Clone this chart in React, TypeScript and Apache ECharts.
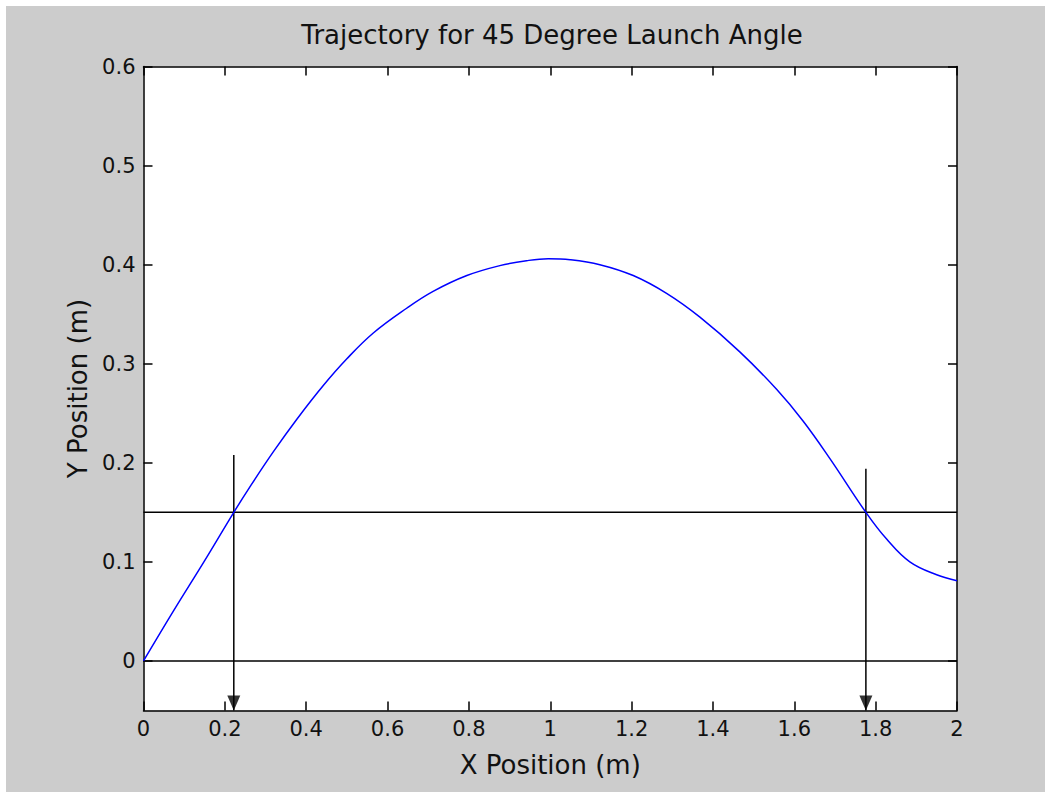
import React, { useEffect, useRef } from "react";
import * as echarts from "echarts";

// Trajectory samples
const trajX = [0, 0.073, 0.15, 0.222, 0.262, 0.319, 0.377, 0.442, 0.5, 0.565, 0.647, 0.712, 0.795, 0.876, 0.942, 0.995, 1.049, 1.122, 1.204, 1.286, 1.368, 1.466, 1.557, 1.622, 1.688, 1.776, 1.827, 1.884, 1.95, 2.0];
const trajY = [0, 0.05, 0.101, 0.15, 0.176, 0.211, 0.244, 0.278, 0.305, 0.331, 0.356, 0.373, 0.389, 0.399, 0.404, 0.406, 0.405, 0.4, 0.389, 0.371, 0.347, 0.312, 0.274, 0.242, 0.204, 0.15, 0.123, 0.1, 0.087, 0.081];

// Horizontal reference lines
const refLevels = [0, 0.15];
// Vertical arrows marking the crossings
const crossX = [0.222, 1.776];
const arrowTopY = [0.208, 0.194];
const arrowBottomY = -0.05;

const xTicks = [0, 0.2, 0.4, 0.6, 0.8, 1, 1.2, 1.4, 1.6, 1.8, 2];
const yTicks = [0, 0.1, 0.2, 0.3, 0.4, 0.5, 0.6];
const xRange = [0, 2];
const yRange = [-0.05, 0.6];

const FONT = "DejaVu Sans";

export default function App() {
  const ref = useRef<HTMLDivElement>(null);

  useEffect(() => {
    if (!ref.current) return;
    const chart = echarts.init(ref.current, null, { renderer: "svg" });

    const tickStyle = { show: true, inside: true, length: 9, lineStyle: { color: "#000", width: 1.5 } };
    const lineStyleAxis = { show: true, onZero: false, lineStyle: { color: "#000", width: 1.5 } };

    const series: any[] = [];
    series.push({
      type: "line",
      data: trajX.map((x, i) => [x, trajY[i]]),
      showSymbol: false,
      smooth: 0.4,
      lineStyle: { color: "#0000ff", width: 1.5 },
      z: 5,
    });
    refLevels.forEach((lv) => {
      series.push({
        type: "line",
        data: [[xRange[0], lv], [xRange[1], lv]],
        showSymbol: false,
        lineStyle: { color: "#000", width: 1.5 },
        z: 3,
      });
    });
    crossX.forEach((cx, i) => {
      series.push({
        type: "line",
        data: [[cx, arrowTopY[i]], [cx, arrowBottomY]],
        showSymbol: false,
        lineStyle: { color: "#000", width: 1.5 },
        z: 3,
      });
    });
    series.push({
      type: "scatter",
      data: crossX.map((cx) => [cx, arrowBottomY]),
      symbol: "triangle",
      symbolSize: [13, 15],
      symbolRotate: 180,
      symbolOffset: [0, -7.5],
      itemStyle: { color: "#000" },
      z: 4,
    });

    chart.setOption({
      animation: false,
      backgroundColor: "#cccccc",
      title: {
        text: "Trajectory for 45 Degree Launch Angle",
        left: 541,
        textAlign: "center",
        top: 11,
        textStyle: { fontFamily: FONT, fontSize: 26, fontWeight: "normal", color: "#111" },
      },
      grid: {
        left: 137.5,
        top: 60.5,
        right: 88,
        bottom: 81.5,
        show: true,
        backgroundColor: "#ffffff",
        borderWidth: 0,
      },
      xAxis: [
        {
          type: "value",
          min: xRange[0],
          max: xRange[1],
          interval: 0.2,
          position: "bottom",
          name: "X Position (m)",
          nameLocation: "middle",
          nameGap: 41,
          nameTextStyle: { fontFamily: FONT, fontSize: 26, color: "#111" },
          axisLine: lineStyleAxis,
          axisTick: { ...tickStyle, customValues: xTicks },
          axisLabel: {
            customValues: xTicks,
            fontFamily: FONT,
            fontSize: 21,
            color: "#111",
            margin: 8,
          },
          splitLine: { show: false },
        },
        {
          type: "value",
          min: xRange[0],
          max: xRange[1],
          interval: 0.2,
          position: "top",
          axisLine: lineStyleAxis,
          axisTick: { ...tickStyle, customValues: xTicks },
          axisLabel: { show: false },
          splitLine: { show: false },
        },
      ],
      yAxis: [
        {
          type: "value",
          min: yRange[0],
          max: yRange[1],
          position: "left",
          name: "Y Position (m)",
          nameLocation: "middle",
          nameGap: 49,
          nameTextStyle: { fontFamily: FONT, fontSize: 26, color: "#111" },
          axisLine: lineStyleAxis,
          axisTick: { ...tickStyle, customValues: yTicks },
          axisLabel: {
            customValues: yTicks,
            fontFamily: FONT,
            fontSize: 21,
            color: "#111",
            margin: 8,
          },
          splitLine: { show: false },
        },
        {
          type: "value",
          min: yRange[0],
          max: yRange[1],
          position: "right",
          axisLine: lineStyleAxis,
          axisTick: { ...tickStyle, customValues: yTicks },
          axisLabel: { show: false },
          splitLine: { show: false },
        },
      ],
      series,
    });

    return () => chart.dispose();
  }, []);

  return (
    <div style={{ position: "absolute", left: 0, top: 0, width: 1045, height: 792, background: "#ffffff" }}>
      <div ref={ref} style={{ position: "absolute", left: 6, top: 6, width: 1039, height: 786 }} />
    </div>
  );
}
